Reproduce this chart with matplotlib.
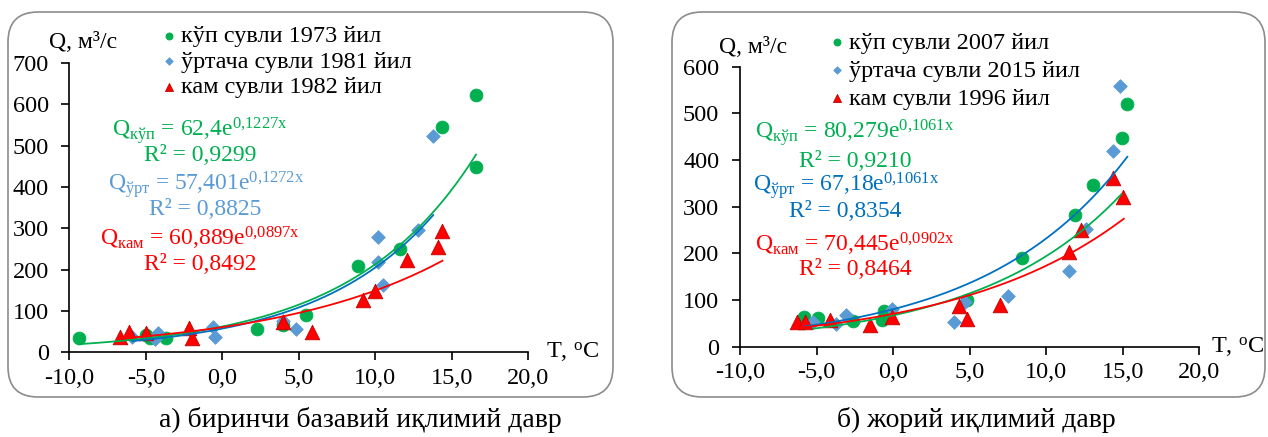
import numpy as np
import matplotlib.pyplot as plt
from matplotlib.patches import FancyBboxPatch

plt.rcParams['font.family'] = ['Liberation Serif', 'DejaVu Serif']
plt.rcParams['mathtext.fontset'] = 'custom'
plt.rcParams['mathtext.rm'] = 'Liberation Serif'
plt.rcParams['mathtext.it'] = 'Liberation Serif:italic'

GREEN = "#00B050"
LBLUE = "#5B9BD5"
DBLUE = "#0070C0"
RED = "#FF0000"

# ---- panel a) 1973 / 1981 / 1982 ----
a_kup_T = [-9.4, -5.0, -4.7, -3.7, 2.3, 4.0, 5.5, 8.9, 11.6, 14.4, 16.6, 16.6]
a_kup_Q = [34, 42, 35, 35, 56, 65, 90, 209, 249, 545, 623, 448]
a_urt_T = [-5.9, -4.4, -4.2, -0.6, -0.5, 4.0, 4.8, 10.2, 10.2, 10.5, 12.8, 13.8]
a_urt_Q = [37, 33, 47, 62, 36, 76, 56, 280, 219, 163, 296, 524]
a_kam_T = [-6.7, -6.1, -5.0, -2.2, -2.0, 4.0, 5.9, 9.2, 10.0, 12.1, 14.1, 14.4]
a_kam_Q = [38, 50, 46, 58, 34, 74, 50, 126, 149, 223, 256, 294]

# ---- panel b) 2007 / 2015 / 1996 ----
b_kup_T = [-5.8, -4.9, -2.6, -0.6, -0.7, 4.8, 8.4, 11.9, 13.05, 14.95, 15.3]
b_kup_Q = [64, 62, 56, 77, 57, 100, 191, 282, 346, 448, 520]
b_urt_T = [-5.2, -3.7, -3.1, -0.1, 4.0, 4.7, 7.5, 11.5, 12.6, 14.35, 14.85]
b_urt_Q = [54, 49, 67, 81, 53, 96, 109, 163, 252, 419, 559]
b_kam_T = [-6.3, -5.75, -4.1, -1.5, -0.07, 4.3, 4.8, 7.0, 11.5, 12.3, 14.35, 15.05]
b_kam_Q = [54, 52, 57, 46, 64, 87, 59, 89, 203, 250, 362, 321]

# exponential trend lines: (a, b, x_start, x_end, colour)
a_trends = [(62.4, 0.1227, -9.4, 16.6, GREEN),
            (57.401, 0.1272, -5.9, 13.8, DBLUE),
            (60.889, 0.0897, -6.7, 14.4, RED)]
b_trends = [(80.279, 0.1061, -5.8, 15.3, DBLUE),
            (67.18, 0.1061, -5.2, 14.9, GREEN),
            (70.445, 0.0902, -6.3, 15.07, RED)]

a_labels = ["кўп сувли 1973 йил", "ўртача сувли 1981 йил", "кам сувли 1982 йил"]
b_labels = ["кўп сувли 2007 йил", "ўртача сувли 2015 йил", "кам сувли 1996 йил"]

a_eq = [(r"Q$_{\mathrm{кўп}}$ = 62,4e$^{\mathrm{0{,}1227x}}$", "R² = 0,9299", GREEN),
        (r"Q$_{\mathrm{ўрт}}$ = 57,401e$^{\mathrm{0{,}1272x}}$", "R² = 0,8825", LBLUE),
        (r"Q$_{\mathrm{кам}}$ = 60,889e$^{\mathrm{0{,}0897x}}$", "R² = 0,8492", RED)]
b_eq = [(r"Q$_{\mathrm{кўп}}$ = 80,279e$^{\mathrm{0{,}1061x}}$", "R² = 0,9210", GREEN),
        (r"Q$_{\mathrm{ўрт}}$ = 67,18e$^{\mathrm{0{,}1061x}}$", "R² = 0,8354", DBLUE),
        (r"Q$_{\mathrm{кам}}$ = 70,445e$^{\mathrm{0{,}0902x}}$", "R² = 0,8464", RED)]

fig = plt.figure(figsize=(12.68, 4.37), dpi=100)

# rounded frames around each panel (inches)
for x0, w in [(0.08, 6.05), (6.72, 5.93)]:
    fig.patches.append(FancyBboxPatch((x0, 0.40), w, 3.85,
                                      boxstyle="round,pad=0,rounding_size=0.3",
                                      transform=fig.dpi_scale_trans,
                                      facecolor="none", edgecolor="#8c8c8c",
                                      linewidth=1.2, zorder=-1))


def draw_panel(rect, series, trends, labels, eqs, ymax, eq_pos, leg_anchor, leg_space, tlab_x):
    ax = fig.add_axes(rect)
    ax.set_facecolor("none")
    styles = [("o", GREEN, GREEN, 85), ("D", LBLUE, LBLUE, 48), ("^", RED, "#C00000", 110)]
    handles = []
    for (T, Q), (m, fc, ec, s), lab in zip(series, styles, labels):
        h = ax.scatter(T, Q, marker=m, s=s, facecolor=fc, edgecolor=ec,
                       linewidth=0.6, zorder=3, label=lab)
        handles.append(h)
    for a, b, x0, x1, c in trends:
        xs = np.linspace(x0, x1, 200)
        ax.plot(xs, a * np.exp(b * xs), color=c, linewidth=1.3, zorder=4)

    ax.set_xlim(-10, 20)
    ax.set_ylim(0, ymax)
    ax.set_xticks(np.arange(-10, 21, 5))
    ax.set_xticklabels([f"{v:.1f}".replace(".", ",") for v in np.arange(-10, 21, 5)])
    ax.set_yticks(np.arange(0, ymax + 1, 100))
    ax.tick_params(labelsize=17.5, direction="out", length=6, width=1.2, colors="black")
    ax.tick_params(axis="y", pad=9)
    ax.tick_params(axis="x", pad=5)
    for sp in ["top", "right"]:
        ax.spines[sp].set_visible(False)
    for sp in ["left", "bottom"]:
        ax.spines[sp].set_linewidth(1.2)

    ax.text(-0.045, 1.07, "Q, м³/с", transform=ax.transAxes, fontsize=17, ha="left", va="center")
    ax.text(tlab_x, 0.0, r"T, $^{\mathrm{o}}$C", transform=ax.transAxes, fontsize=17.5,
            ha="left", va="center")

    ax.legend(handles=handles, loc="upper left", bbox_to_anchor=leg_anchor,
              frameon=False, fontsize=17.5, handletextpad=0.0, labelspacing=leg_space,
              borderaxespad=0, handlelength=1.0, markerscale=0.55)

    for (eq, r2, c), (x, y1, y2) in zip(eqs, eq_pos):
        ax.text(x, y1, eq, transform=ax.transAxes, color=c, fontsize=17, ha="center", va="center")
        ax.text(x, y2, r2, transform=ax.transAxes, color=c, fontsize=17, ha="center", va="center")
    return ax


# panel a: axes spans px x 69.5..528, y 63..352 (top-origin)
draw_panel([0.0548, 0.1938, 0.3616, 0.662],
           [(a_kup_T, a_kup_Q), (a_urt_T, a_urt_Q), (a_kam_T, a_kam_Q)],
           a_trends, a_labels, a_eq, 700,
           [(0.285, 0.765, 0.68), (0.297, 0.58, 0.492), (0.285, 0.395, 0.305)],
           (0.17, 1.165), 0.15, 1.04)

draw_panel([0.5836, 0.2066, 0.3622, 0.6407],
           [(b_kup_T, b_kup_Q), (b_urt_T, b_urt_Q), (b_kam_T, b_kam_Q)],
           b_trends, b_labels, b_eq, 600,
           [(0.25, 0.765, 0.66), (0.23, 0.575, 0.482), (0.25, 0.365, 0.275)],
           (0.163, 1.16), 0.25, 1.025)

fig.text(360 / 1268, 0.04, "а) биринчи базавий иқлимий давр", fontsize=20, ha="center", va="center")
fig.text(976 / 1268, 0.04, "б) жорий иқлимий давр", fontsize=20, ha="center", va="center")

fig.savefig("out.png", dpi=100)
